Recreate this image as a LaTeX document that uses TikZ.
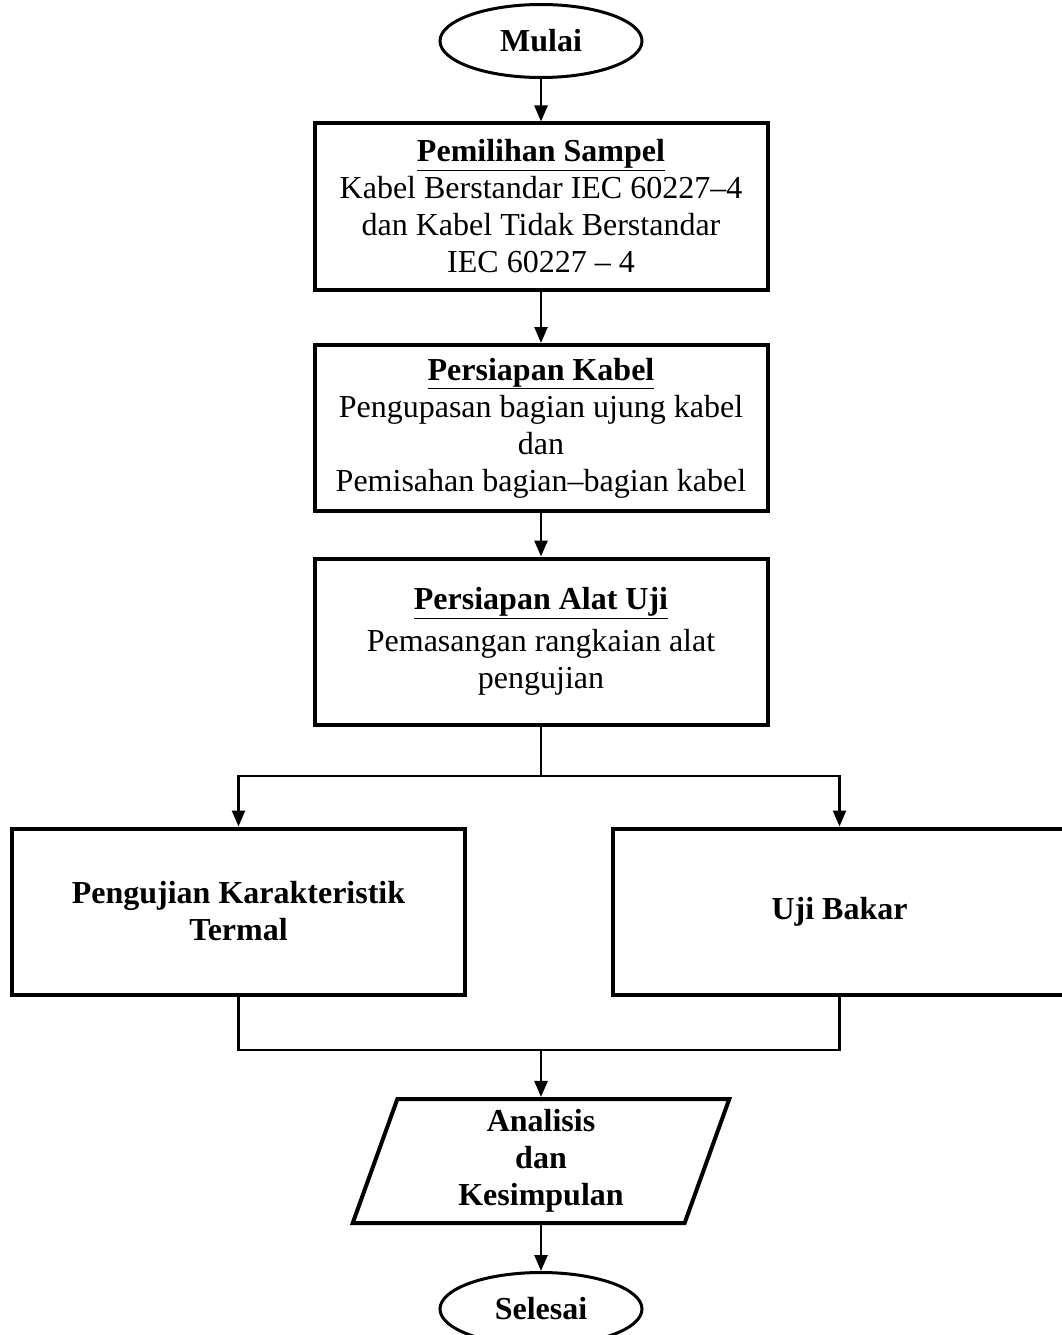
\documentclass[tikz,border=0pt]{standalone}
\usepackage{fontspec}
\setmainfont{Liberation Serif}
\usetikzlibrary{shapes.geometric,arrows.meta}

\tikzset{
    prosesbox/.style={draw, line width=4pt, rectangle, minimum width=453pt,
        minimum height=166pt, inner sep=2pt, align=center},
    terminal/.style={draw, line width=3pt, ellipse, minimum width=202pt,
        minimum height=73pt, inner sep=0pt, font=\fontsize{32}{37}\selectfont\bfseries},
    datain/.style={draw, line width=4pt, trapezium, trapezium left angle=76,
        trapezium right angle=104, trapezium stretches=true, minimum width=377pt,
        minimum height=124pt, inner sep=0pt, align=center,
        font=\fontsize{32}{37}\selectfont\bfseries},
    alur/.style={line width=2.5pt, -{Triangle[width=13pt,length=16pt]}},
    garis/.style={line width=2.5pt}
}

\begin{document}
\begin{tikzpicture}[x=1pt, y=-1pt, font=\fontsize{32}{37}\selectfont]
    \useasboundingbox (0,0) rectangle (1062,1335);

    % Start
    \node[terminal] (mulai) at (541,41) {Mulai};

    % Main steps
    \node[prosesbox] (sampel) at (541,206.5) {\textbf{\underline{Pemilihan Sampel}}\\
        Kabel Berstandar IEC 60227--4\\ dan Kabel Tidak Berstandar\\ IEC 60227 -- 4};
    \node[prosesbox] (kabel) at (541,428) {\textbf{\underline{Persiapan Kabel}}\\
        Pengupasan bagian ujung kabel\\ dan\\ Pemisahan bagian--bagian kabel};
    \node[prosesbox] (alat) at (541,641.5) {\textbf{\underline{Persiapan Alat Uji}}\\[5pt]
        Pemasangan rangkaian alat\\ pengujian};

    % Two tests
    \node[prosesbox, font=\fontsize{32}{37}\selectfont\bfseries] (termal) at (238.5,911.5)
        {Pengujian Karakteristik\\ Termal};
    \node[prosesbox, font=\fontsize{32}{37}\selectfont\bfseries] (bakar) at (839.5,911.5)
        {Uji Bakar};

    % Analysis and end
    \node[datain] (analisis) at (541,1161) {Analisis\\ dan\\ Kesimpulan};
    \node[terminal] (selesai) at (541,1309) {Selesai};

    % Connectors
    \draw[alur] (mulai) -- (sampel);
    \draw[alur] (sampel) -- (kabel);
    \draw[alur] (kabel) -- (alat);
    \coordinate (cabang) at (541,776);
    \coordinate (gabung) at (541,1050);
    \draw[garis] (alat) -- (cabang);
    \draw[alur] (cabang) -| (termal);
    \draw[alur] (cabang) -| (bakar);
    \draw[garis] (termal) |- (gabung) -| (bakar);
    \draw[alur] (gabung) -- (analisis);
    \draw[alur] (analisis) -- (selesai);

\end{tikzpicture}
\end{document}
